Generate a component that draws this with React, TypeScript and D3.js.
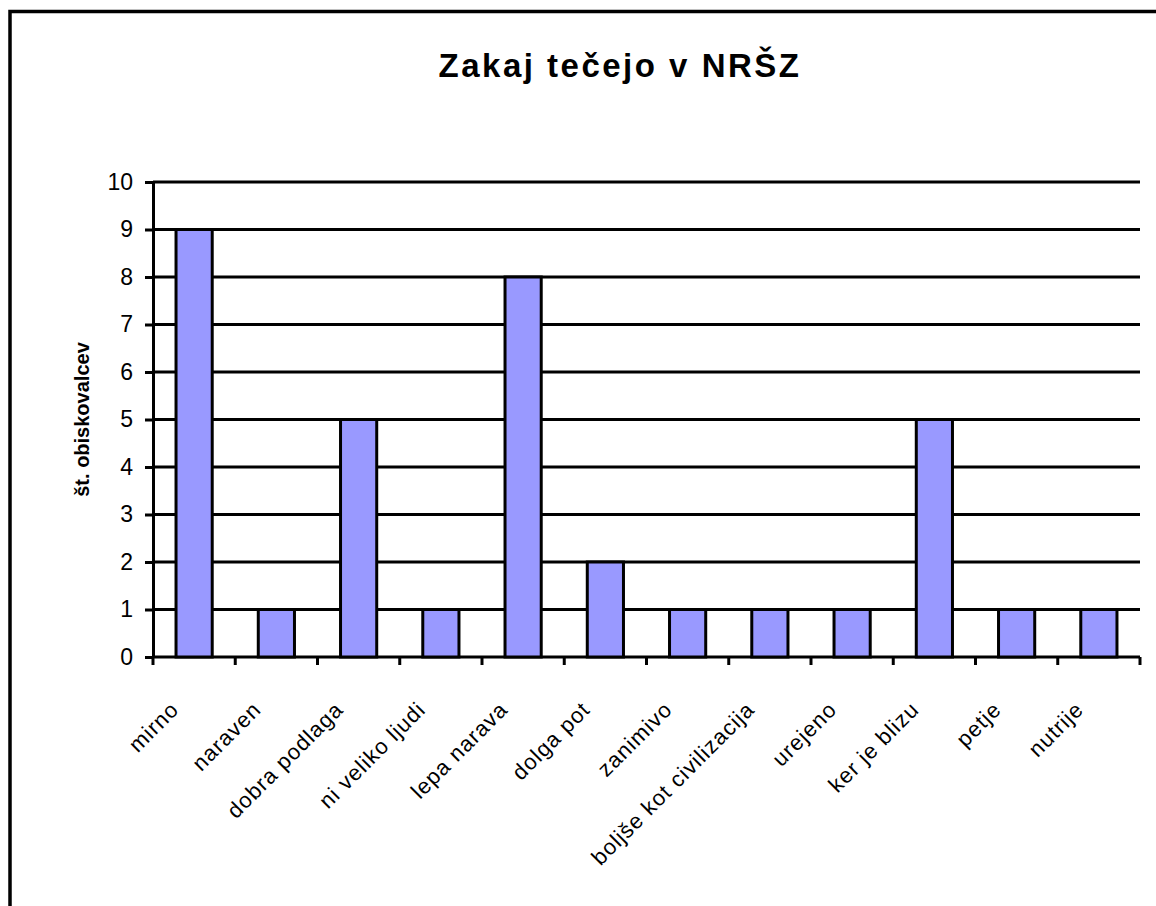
import React, { useEffect, useRef } from "react";
import * as d3 from "d3";

const width = 1156;
const height = 906;

const categories = [
  "mirno",
  "naraven",
  "dobra podlaga",
  "ni veliko ljudi",
  "lepa narava",
  "dolga pot",
  "zanimivo",
  "boljše kot civilizacija",
  "urejeno",
  "ker je blizu",
  "petje",
  "nutrije",
];
const counts = [9, 1, 5, 1, 8, 2, 1, 1, 1, 5, 1, 1];
const yTicks = [0, 1, 2, 3, 4, 5, 6, 7, 8, 9, 10];

const font = "'Liberation Sans', Arial, sans-serif";

export default function App() {
  const ref = useRef<SVGSVGElement>(null);

  useEffect(() => {
    drawChart();
  }, []);

  const drawChart = () => {
    const svg = d3.select(ref.current);
    svg.selectAll("*").remove();

    const left = 153;
    const right = 1140;
    const top = 182;
    const bottom = 657;

    // outer frame (runs off the right/bottom edge like the original)
    svg
      .append("rect")
      .attr("x", 10)
      .attr("y", 11.5)
      .attr("width", 1300)
      .attr("height", 1000)
      .attr("fill", "white")
      .attr("stroke", "black")
      .attr("stroke-width", 3.5);

    svg
      .append("text")
      .attr("x", 620)
      .attr("y", 77)
      .attr("text-anchor", "middle")
      .style("font-family", font)
      .style("font-weight", "bold")
      .style("font-size", "33px")
      .style("letter-spacing", "2.5px")
      .text("Zakaj tečejo v NRŠZ");

    const x = d3
      .scaleBand()
      .domain(categories)
      .range([left, right])
      .paddingInner(0.56)
      .paddingOuter(0.28);

    const y = d3.scaleLinear().domain([0, 10]).range([bottom, top]);

    // gridlines
    svg
      .append("g")
      .selectAll("line")
      .data(yTicks)
      .enter()
      .append("line")
      .attr("x1", left)
      .attr("x2", right)
      .attr("y1", (d) => y(d))
      .attr("y2", (d) => y(d))
      .attr("stroke", "black")
      .attr("stroke-width", 3);

    // y axis
    const yAxis = svg
      .append("g")
      .attr("transform", `translate(${left},0)`)
      .call(d3.axisLeft(y).tickValues(yTicks).tickSize(8).tickSizeOuter(0).tickPadding(12));
    yAxis.select(".domain").attr("stroke", "black").attr("stroke-width", 3);
    yAxis.selectAll(".tick line").attr("stroke", "black").attr("stroke-width", 3);
    yAxis
      .selectAll(".tick text")
      .attr("fill", "black")
      .style("font-family", font)
      .style("font-size", "23px");

    // x axis ticks at category boundaries
    const step = x.step();
    const bounds = d3.range(categories.length + 1).map((i) => left + i * step);
    svg
      .append("g")
      .selectAll("line")
      .data(bounds)
      .enter()
      .append("line")
      .attr("x1", (d) => d)
      .attr("x2", (d) => d)
      .attr("y1", bottom)
      .attr("y2", bottom + 8)
      .attr("stroke", "black")
      .attr("stroke-width", 3);

    // bars
    svg
      .append("g")
      .selectAll("rect")
      .data(counts)
      .enter()
      .append("rect")
      .attr("x", (d, i) => x(categories[i]))
      .attr("y", (d) => y(d))
      .attr("width", x.bandwidth())
      .attr("height", (d) => y(0) - y(d))
      .attr("fill", "#9999FF")
      .attr("stroke", "black")
      .attr("stroke-width", 3);

    // x labels
    svg
      .append("g")
      .selectAll("text")
      .data(categories)
      .enter()
      .append("text")
      .attr(
        "transform",
        (d) => `translate(${x(d) + x.bandwidth() / 2 - 14},${bottom + 54}) rotate(-45)`
      )
      .attr("text-anchor", "end")
      .style("font-family", font)
      .style("font-size", "22px")
      .style("letter-spacing", "1px")
      .text((d) => d);

    // y title
    svg
      .append("text")
      .attr("transform", `translate(89,${(top + bottom) / 2}) rotate(-90)`)
      .attr("text-anchor", "middle")
      .style("font-family", font)
      .style("font-weight", "bold")
      .style("font-size", "20px")
      .text("št. obiskovalcev");
  };

  return (
    <svg
      ref={ref}
      width={width}
      height={height}
      style={{ position: "absolute", left: 0, top: 0, overflow: "hidden" }}
    ></svg>
  );
}
